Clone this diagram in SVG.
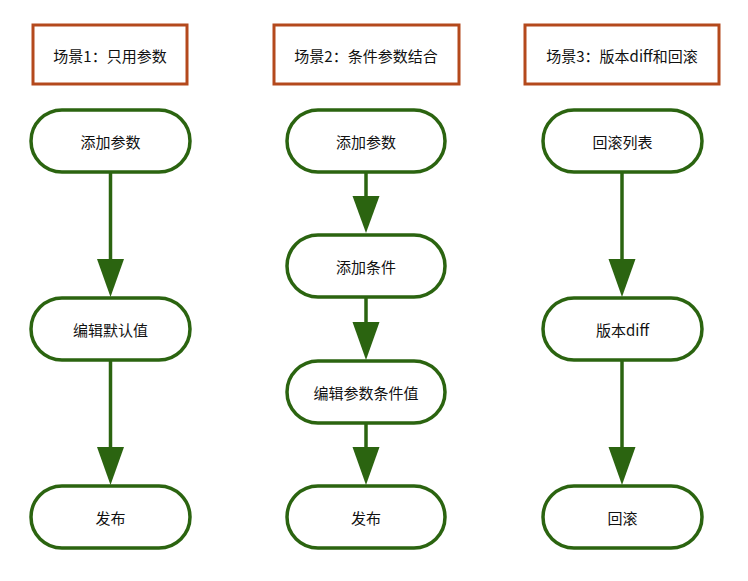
<svg xmlns="http://www.w3.org/2000/svg" width="748" height="581" viewBox="0 0 748 581">
<style>
.hdr{fill:#fff;stroke:#b4491c;stroke-width:3}
.nd{fill:#fff;stroke:#2b6410;stroke-width:3.5}
.ln{stroke:#2b6410;stroke-width:3.5;fill:none}
.hd{fill:#2b6410}
text{font-family:"Noto Sans CJK SC","Liberation Sans",sans-serif;font-size:15px;fill:#111;text-anchor:middle;dominant-baseline:central}
</style>
<rect width="748" height="581" fill="#fff"/>
<g id="h1"><rect class="hdr" x="33" y="25" width="154" height="59"/><text x="110" y="55">场景1：只用参数</text></g>
<g id="h2"><rect class="hdr" x="274" y="25" width="185" height="59"/><text x="366" y="55">场景2：条件参数结合</text></g>
<g id="h3"><rect class="hdr" x="525" y="25" width="194" height="59"/><text x="622" y="55">场景3：版本diff和回滚</text></g>
<g id="connectors">
<line class="ln" x1="110.5" y1="172" x2="110.5" y2="262"/><polygon class="hd" points="97,259 124,259 110.5,297"/>
<line class="ln" x1="110.5" y1="360" x2="110.5" y2="450"/><polygon class="hd" points="97,447 124,447 110.5,485"/>
<line class="ln" x1="366" y1="172" x2="366" y2="199"/><polygon class="hd" points="352.5,196 379.5,196 366,233"/>
<line class="ln" x1="366" y1="298" x2="366" y2="325"/><polygon class="hd" points="352.5,322 379.5,322 366,360"/>
<line class="ln" x1="366" y1="424" x2="366" y2="450"/><polygon class="hd" points="352.5,447 379.5,447 366,485"/>
<line class="ln" x1="622" y1="172" x2="622" y2="262"/><polygon class="hd" points="608.5,259 635.5,259 622,297"/>
<line class="ln" x1="622" y1="360" x2="622" y2="450"/><polygon class="hd" points="608.5,447 635.5,447 622,485"/>
</g>
<g id="n1a"><rect class="nd" x="31" y="110" width="159" height="62" rx="31"/><text x="110.5" y="141">添加参数</text></g>
<g id="n1b"><rect class="nd" x="31" y="298" width="159" height="62" rx="31"/><text x="110.5" y="329">编辑默认值</text></g>
<g id="n1c"><rect class="nd" x="31" y="486" width="159" height="62" rx="31"/><text x="110.5" y="517">发布</text></g>
<g id="n2a"><rect class="nd" x="287" y="110" width="158" height="62" rx="31"/><text x="366" y="141">添加参数</text></g>
<g id="n2b"><rect class="nd" x="287" y="235" width="158" height="62" rx="31"/><text x="366" y="266">添加条件</text></g>
<g id="n2c"><rect class="nd" x="287" y="361" width="158" height="62" rx="31"/><text x="366" y="392">编辑参数条件值</text></g>
<g id="n2d"><rect class="nd" x="287" y="486" width="158" height="62" rx="31"/><text x="366" y="517">发布</text></g>
<g id="n3a"><rect class="nd" x="543" y="110" width="159" height="62" rx="31"/><text x="622.5" y="141">回滚列表</text></g>
<g id="n3b"><rect class="nd" x="543" y="298" width="159" height="62" rx="31"/><text x="622.5" y="329">版本diff</text></g>
<g id="n3c"><rect class="nd" x="543" y="486" width="159" height="62" rx="31"/><text x="622.5" y="517">回滚</text></g>
</svg>
